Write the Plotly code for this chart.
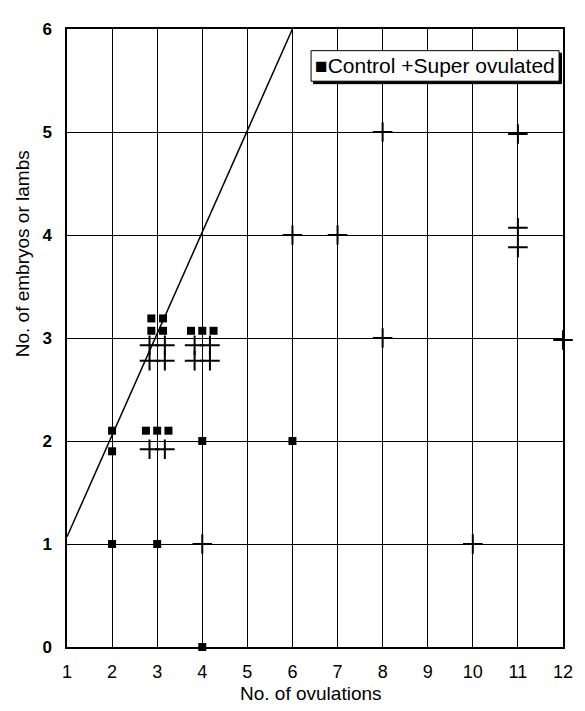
import plotly.graph_objects as go

# Control (squares)
control_x = [2, 2, 2, 3, 4, 4, 6, 2.87, 3.13, 2.87, 3.13, 3.75, 4.0, 4.25, 2.75, 3.0, 3.25]
control_y = [1, 1.9, 2.1, 1, 0, 2, 2, 3.19, 3.19, 3.07, 3.07, 3.07, 3.07, 3.07, 2.1, 2.1, 2.1]

# Super ovulated (crosses)
super_x = [2.83, 3.17, 2.83, 3.17, 2.83, 3.17, 3.83, 4.17, 3.83, 4.17,
           4, 10, 6, 7, 8, 8, 11, 11, 11, 12]
super_y = [2.93, 2.93, 2.78, 2.78, 1.92, 1.92, 2.93, 2.93, 2.78, 2.78,
           1, 1, 4, 4, 5, 3, 4.98, 4.07, 3.88, 2.98]

# Reference line
line_x = [1, 6]
line_y = [1.07, 6]

x_ticks = list(range(1, 13))
y_ticks = list(range(0, 7))

# page has an 8px body margin; compensate
OFF = 8
W, H = 585 - OFF, 711 - OFF
L, T = 67 - OFF, 20 - OFF
R = 14
ph = 627.5
B = H - T - ph
pw = W - L - R

def px(xp):
    return (xp - OFF - L) / pw

def py(yp):
    return (H - B - (yp - OFF)) / ph

fig = go.Figure()
fig.add_trace(go.Scatter(x=line_x, y=line_y, mode="lines",
                         line=dict(color="black", width=1.5), showlegend=False,
                         cliponaxis=False))
fig.add_trace(go.Scatter(x=control_x, y=control_y, mode="markers",
                         marker=dict(symbol="square", size=8, color="black"),
                         showlegend=False, cliponaxis=False))
fig.add_trace(go.Scatter(x=super_x, y=super_y, mode="markers",
                         marker=dict(symbol="cross-thin", size=14,
                                     line=dict(color="black", width=2)),
                         showlegend=False, cliponaxis=False))

fnt = "Liberation Sans, Arial, Helvetica, sans-serif"

fig.update_layout(
    width=W, height=H,
    margin=dict(l=L, r=R, t=T, b=B),
    paper_bgcolor="white", plot_bgcolor="white",
    font=dict(family=fnt, color="black"),
    xaxis=dict(range=[1, 12], tickvals=x_ticks, ticktext=[str(v) for v in x_ticks],
               showgrid=True, gridcolor="black", gridwidth=1, zeroline=False,
               showline=True, linecolor="black", linewidth=1.5, mirror=True,
               ticks="", ticklabelstandoff=8,
               tickfont=dict(size=18, family=fnt, color="black")),
    yaxis=dict(range=[0, 6], tickvals=y_ticks, ticktext=[str(v) for v in y_ticks],
               showgrid=True, gridcolor="black", gridwidth=1, zeroline=False,
               showline=True, linecolor="black", linewidth=1.5, mirror=True,
               ticks="", ticklabelstandoff=10,
               tickfont=dict(size=17, family=fnt, color="black", weight="bold")),
)

# Axis titles
fig.add_annotation(text="No. of ovulations", xref="paper", yref="paper",
                   x=px(315), y=py(695), xanchor="center", yanchor="middle",
                   showarrow=False,
                   font=dict(size=19, family=fnt, color="black"))
fig.add_annotation(text="No. of embryos or lambs", xref="paper", yref="paper",
                   x=px(22), y=py(248), xanchor="center", yanchor="middle",
                   showarrow=False, textangle=-90,
                   font=dict(size=19, family=fnt, color="black"))

# Legend box with shadow
bx0, bx1, by0, by1 = 315, 567, 42, 73
fig.add_shape(type="rect", xref="paper", yref="paper",
              x0=px(bx0 + 2.5), x1=px(bx1 + 2.5), y0=py(by1 + 2.5), y1=py(by0 + 2.5),
              fillcolor="black", line=dict(color="black", width=1))
fig.add_shape(type="rect", xref="paper", yref="paper",
              x0=px(bx0), x1=px(bx1), y0=py(by1), y1=py(by0),
              fillcolor="white", line=dict(color="black", width=1))
fig.add_annotation(text="■Control +Super ovulated", xref="paper", yref="paper",
                   x=px((bx0 + bx1) / 2), y=py((by0 + by1) / 2),
                   xanchor="center", yanchor="middle", showarrow=False,
                   font=dict(size=21, family=fnt, color="black"))

fig.write_html("out.html")
